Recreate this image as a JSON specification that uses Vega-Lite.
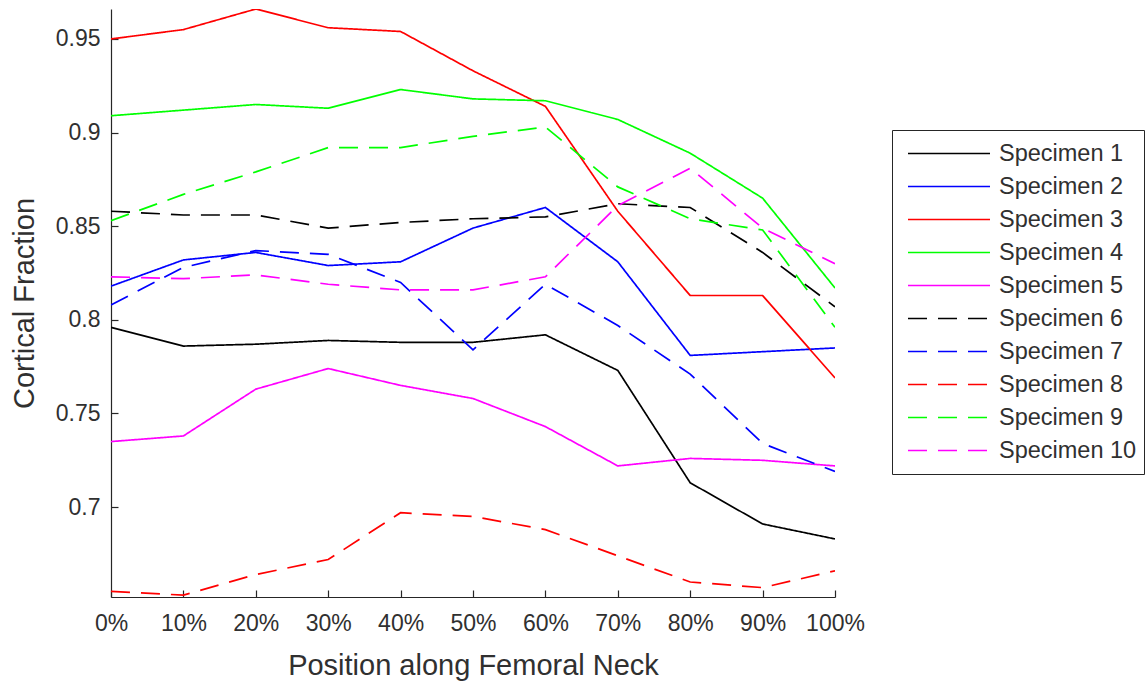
{
  "$schema": "https://vega.github.io/schema/vega-lite/v6.json",
  "width": 724,
  "height": 588,
  "autosize": {"type": "none"},
  "padding": {"left": 111, "top": 9, "right": 311, "bottom": 86},
  "background": "#ffffff",
  "config": {
    "view": {"stroke": null},
    "font": "Liberation Sans",
    "axis": {"grid": false, "domainColor": "#262626", "tickColor": "#262626", "labelColor": "#303030", "titleColor": "#303030", "labelFont": "Liberation Sans", "titleFont": "Liberation Sans", "labelFontSize": 23, "titleFontSize": 29, "titleFontWeight": "normal", "tickSize": -7, "domainWidth": 1.2, "tickWidth": 1.2}
  },
  "data": {"values": [
    {"s":"Specimen 1","p":0,"v":0.796},{"s":"Specimen 1","p":10,"v":0.786},{"s":"Specimen 1","p":20,"v":0.787},{"s":"Specimen 1","p":30,"v":0.789},{"s":"Specimen 1","p":40,"v":0.788},{"s":"Specimen 1","p":50,"v":0.788},{"s":"Specimen 1","p":60,"v":0.792},{"s":"Specimen 1","p":70,"v":0.773},{"s":"Specimen 1","p":80,"v":0.713},{"s":"Specimen 1","p":90,"v":0.691},{"s":"Specimen 1","p":100,"v":0.683},
    {"s":"Specimen 2","p":0,"v":0.818},{"s":"Specimen 2","p":10,"v":0.832},{"s":"Specimen 2","p":20,"v":0.836},{"s":"Specimen 2","p":30,"v":0.829},{"s":"Specimen 2","p":40,"v":0.831},{"s":"Specimen 2","p":50,"v":0.849},{"s":"Specimen 2","p":60,"v":0.860},{"s":"Specimen 2","p":70,"v":0.831},{"s":"Specimen 2","p":80,"v":0.781},{"s":"Specimen 2","p":90,"v":0.783},{"s":"Specimen 2","p":100,"v":0.785},
    {"s":"Specimen 3","p":0,"v":0.950},{"s":"Specimen 3","p":10,"v":0.955},{"s":"Specimen 3","p":20,"v":0.966},{"s":"Specimen 3","p":30,"v":0.956},{"s":"Specimen 3","p":40,"v":0.954},{"s":"Specimen 3","p":50,"v":0.933},{"s":"Specimen 3","p":60,"v":0.914},{"s":"Specimen 3","p":70,"v":0.858},{"s":"Specimen 3","p":80,"v":0.813},{"s":"Specimen 3","p":90,"v":0.813},{"s":"Specimen 3","p":100,"v":0.769},
    {"s":"Specimen 4","p":0,"v":0.909},{"s":"Specimen 4","p":10,"v":0.912},{"s":"Specimen 4","p":20,"v":0.915},{"s":"Specimen 4","p":30,"v":0.913},{"s":"Specimen 4","p":40,"v":0.923},{"s":"Specimen 4","p":50,"v":0.918},{"s":"Specimen 4","p":60,"v":0.917},{"s":"Specimen 4","p":70,"v":0.907},{"s":"Specimen 4","p":80,"v":0.889},{"s":"Specimen 4","p":90,"v":0.865},{"s":"Specimen 4","p":100,"v":0.817},
    {"s":"Specimen 5","p":0,"v":0.735},{"s":"Specimen 5","p":10,"v":0.738},{"s":"Specimen 5","p":20,"v":0.763},{"s":"Specimen 5","p":30,"v":0.774},{"s":"Specimen 5","p":40,"v":0.765},{"s":"Specimen 5","p":50,"v":0.758},{"s":"Specimen 5","p":60,"v":0.743},{"s":"Specimen 5","p":70,"v":0.722},{"s":"Specimen 5","p":80,"v":0.726},{"s":"Specimen 5","p":90,"v":0.725},{"s":"Specimen 5","p":100,"v":0.722},
    {"s":"Specimen 6","p":0,"v":0.858},{"s":"Specimen 6","p":10,"v":0.856},{"s":"Specimen 6","p":20,"v":0.856},{"s":"Specimen 6","p":30,"v":0.849},{"s":"Specimen 6","p":40,"v":0.852},{"s":"Specimen 6","p":50,"v":0.854},{"s":"Specimen 6","p":60,"v":0.855},{"s":"Specimen 6","p":70,"v":0.862},{"s":"Specimen 6","p":80,"v":0.860},{"s":"Specimen 6","p":90,"v":0.836},{"s":"Specimen 6","p":100,"v":0.807},
    {"s":"Specimen 7","p":0,"v":0.808},{"s":"Specimen 7","p":10,"v":0.828},{"s":"Specimen 7","p":20,"v":0.837},{"s":"Specimen 7","p":30,"v":0.835},{"s":"Specimen 7","p":40,"v":0.820},{"s":"Specimen 7","p":50,"v":0.784},{"s":"Specimen 7","p":60,"v":0.819},{"s":"Specimen 7","p":70,"v":0.797},{"s":"Specimen 7","p":80,"v":0.771},{"s":"Specimen 7","p":90,"v":0.734},{"s":"Specimen 7","p":100,"v":0.719},
    {"s":"Specimen 8","p":0,"v":0.655},{"s":"Specimen 8","p":10,"v":0.653},{"s":"Specimen 8","p":20,"v":0.664},{"s":"Specimen 8","p":30,"v":0.672},{"s":"Specimen 8","p":40,"v":0.697},{"s":"Specimen 8","p":50,"v":0.695},{"s":"Specimen 8","p":60,"v":0.688},{"s":"Specimen 8","p":70,"v":0.674},{"s":"Specimen 8","p":80,"v":0.660},{"s":"Specimen 8","p":90,"v":0.657},{"s":"Specimen 8","p":100,"v":0.666},
    {"s":"Specimen 9","p":0,"v":0.853},{"s":"Specimen 9","p":10,"v":0.867},{"s":"Specimen 9","p":20,"v":0.879},{"s":"Specimen 9","p":30,"v":0.892},{"s":"Specimen 9","p":40,"v":0.892},{"s":"Specimen 9","p":50,"v":0.898},{"s":"Specimen 9","p":60,"v":0.903},{"s":"Specimen 9","p":70,"v":0.871},{"s":"Specimen 9","p":80,"v":0.854},{"s":"Specimen 9","p":90,"v":0.848},{"s":"Specimen 9","p":100,"v":0.796},
    {"s":"Specimen 10","p":0,"v":0.823},{"s":"Specimen 10","p":10,"v":0.822},{"s":"Specimen 10","p":20,"v":0.824},{"s":"Specimen 10","p":30,"v":0.819},{"s":"Specimen 10","p":40,"v":0.816},{"s":"Specimen 10","p":50,"v":0.816},{"s":"Specimen 10","p":60,"v":0.823},{"s":"Specimen 10","p":70,"v":0.861},{"s":"Specimen 10","p":80,"v":0.881},{"s":"Specimen 10","p":90,"v":0.849},{"s":"Specimen 10","p":100,"v":0.830}
  ]},
  "mark": {"type": "line", "strokeWidth": 1.7, "clip": true},
  "encoding": {
    "x": {"field": "p", "type": "quantitative", "scale": {"domain": [0, 100], "nice": false},
      "axis": {"title": "Position along Femoral Neck", "values": [0,10,20,30,40,50,60,70,80,90,100], "labelExpr": "datum.value + '%'", "labelPadding": 22, "titlePadding": 16, "labelFlush": false}},
    "y": {"field": "v", "type": "quantitative", "scale": {"domain": [0.652, 0.966], "nice": false, "zero": false},
      "axis": {"title": "Cortical Fraction", "values": [0.7,0.75,0.8,0.85,0.9,0.95], "format": "~g", "labelPadding": 18, "titlePadding": 16}},
    "color": {"field": "s", "type": "nominal", "sort": null,
      "scale": {"domain": ["Specimen 1","Specimen 2","Specimen 3","Specimen 4","Specimen 5","Specimen 6","Specimen 7","Specimen 8","Specimen 9","Specimen 10"],
        "range": ["#000000","#0000ff","#ff0000","#00ff00","#ff00ff","#000000","#0000ff","#ff0000","#00ff00","#ff00ff"]},
      "legend": {"title": null, "orient": "none", "legendX": 781, "legendY": 121, "strokeColor": "#262626", "fillColor": "#ffffff", "padding": 7, "symbolType": "stroke", "symbolSize": 6724, "symbolStrokeWidth": 1.7, "clipHeight": 33, "rowPadding": 0, "labelFontSize": 23.5, "labelColor": "#303030", "labelFont": "Liberation Sans", "labelOffset": 8, "symbolOffset": 8}},
    "strokeDash": {"field": "s", "type": "nominal", "sort": null,
      "scale": {"domain": ["Specimen 1","Specimen 2","Specimen 3","Specimen 4","Specimen 5","Specimen 6","Specimen 7","Specimen 8","Specimen 9","Specimen 10"],
        "range": [[1,0],[1,0],[1,0],[1,0],[1,0],[19,11],[19,11],[19,11],[19,11],[19,11]]},
      "legend": {"title": null, "orient": "none", "legendX": 781, "legendY": 121, "strokeColor": "#262626", "fillColor": "#ffffff", "padding": 7, "symbolType": "stroke", "symbolSize": 6724, "symbolStrokeWidth": 1.7, "clipHeight": 33, "rowPadding": 0, "labelFontSize": 23.5, "labelColor": "#303030", "labelFont": "Liberation Sans", "labelOffset": 8, "symbolOffset": 8}}
  }
}
